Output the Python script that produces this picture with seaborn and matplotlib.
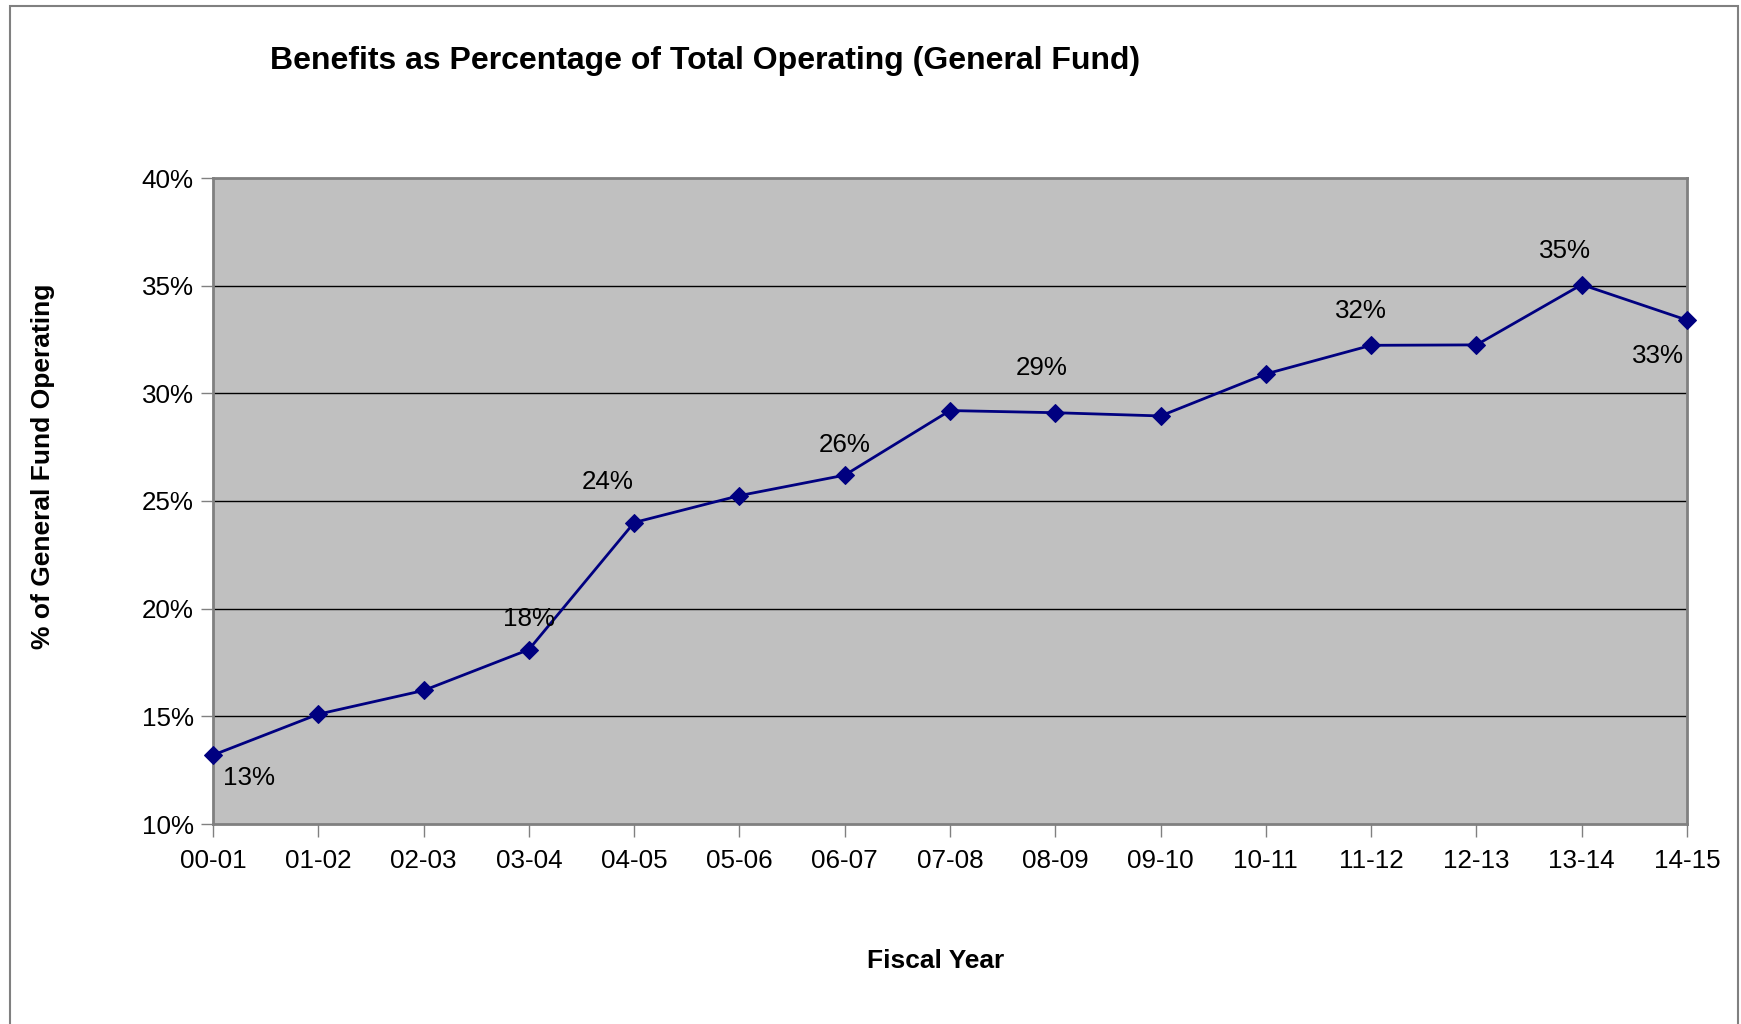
import matplotlib
matplotlib.use("Agg")
import matplotlib.pyplot as plt
import seaborn as sns
import pandas as pd
from matplotlib.patches import Rectangle
from matplotlib.ticker import FuncFormatter

years = ["00-01", "01-02", "02-03", "03-04", "04-05", "05-06", "06-07", "07-08",
         "08-09", "09-10", "10-11", "11-12", "12-13", "13-14", "14-15"]
values = [13.2, 15.1, 16.2, 18.1, 24.0, 25.25, 26.2, 29.2, 29.1, 28.95, 30.9,
          32.23, 32.25, 35.05, 33.4]
label_years = ["00-01", "03-04", "04-05", "06-07", "08-09", "11-12", "13-14", "14-15"]
label_texts = ["13%", "18%", "24%", "26%", "29%", "32%", "35%", "33%"]

df = pd.DataFrame({"idx": range(len(years)), "year": years, "value": values})

sns.set_theme(style="white")
plt.rcParams['font.family'] = ['Liberation Sans', 'DejaVu Sans']
plt.rcParams['text.color'] = 'black'
plt.rcParams['axes.labelcolor'] = 'black'

fig = plt.figure(figsize=(17.41, 10.24), dpi=100)
ax = fig.add_axes([213/1741, 1 - 824/1024, (1687-213)/1741, (824-178)/1024])
ax.set_facecolor("#C0C0C0")

for yv in [15, 20, 25, 30, 35]:
    ax.axhline(yv, color="black", lw=1.0, zorder=1)

sns.lineplot(data=df, x="idx", y="value", ax=ax, color="#000080", lw=2.0,
             marker="D", markersize=9, markeredgecolor="#000080",
             markerfacecolor="#000080", clip_on=False, zorder=3)

ax.set_xlim(0, len(years) - 1)
ax.set_ylim(10, 40)
ax.set_xticks(range(len(years)))
ax.set_xticklabels(years)
ax.set_yticks([10, 15, 20, 25, 30, 35, 40])
ax.yaxis.set_major_formatter(FuncFormatter(lambda v, p: f"{v:.0f}%"))
ax.tick_params(axis="both", labelsize=18.7, labelcolor="black", length=9, width=1,
               direction="out", color="#808080")
ax.tick_params(axis="x", pad=9, bottom=True)
ax.tick_params(axis="y", pad=5, left=True)
for s in ax.spines.values():
    s.set_color("#808080")
    s.set_linewidth(2)
    s.set_visible(True)

ax.set_xlabel("Fiscal Year", fontsize=19, fontweight="bold", labelpad=55, color="black")
ax.set_ylabel("% of General Fund Operating", fontsize=19, fontweight="bold", labelpad=62,
              color="black")
ax.xaxis.label.set_x(0.4905)
ax.yaxis.label.set_y(0.553)

# data labels (offsets in pixels)
offsets = {"00-01": (36, -23), "03-04": (0, 31), "04-05": (-26, 41), "06-07": (0, 30),
           "08-09": (-14, 45), "11-12": (-10, 34), "13-14": (-17, 34), "14-15": (-29, -36)}
for ly, lt in zip(label_years, label_texts):
    i = years.index(ly)
    dx, dy = offsets[ly]
    ax.annotate(lt, (i, values[i]), xytext=(dx * 0.72, dy * 0.72),
                textcoords="offset points", ha="center", va="center",
                fontsize=18.7, color="black", zorder=4)

fig.text(705/1741, 1 - 61/1024, "Benefits as Percentage of Total Operating (General Fund)",
         ha="center", va="center", fontsize=23, fontweight="bold", color="black")

fig.patches.append(Rectangle((10/1741, -0.01), (1738-10)/1741, 1 - 6/1024 + 0.01,
                             transform=fig.transFigure, fill=False,
                             edgecolor="#808080", lw=1.5))

fig.savefig("out.png", dpi=100, facecolor="white")
